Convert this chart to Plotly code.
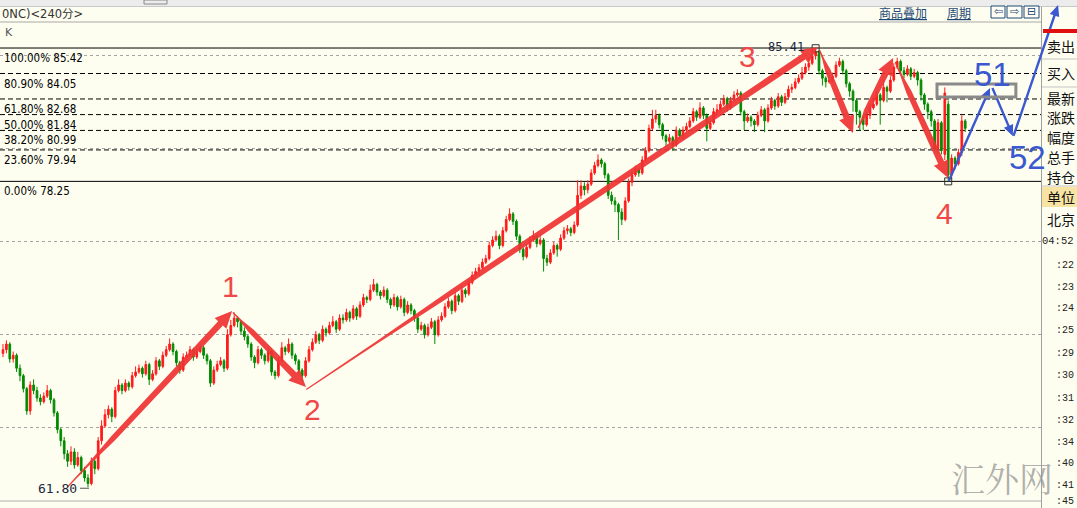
import math
import plotly.graph_objects as go

# ---------------- data (4h bars) ----------------
opens = [69.0,69.2,69.5,68.7,68.9,68.2,67.8,67.1,65.9,67.3,
         67.0,66.6,66.4,66.7,67.0,66.5,65.8,64.9,64.3,63.6,
         63.2,63.7,63.0,63.4,62.7,62.3,62.0,63.2,62.8,64.3,
         65.1,65.7,66.0,65.6,67.0,67.3,67.0,67.4,67.2,67.8,
         68.0,68.2,67.9,68.4,67.6,67.9,68.6,68.3,68.9,69.2,
         69.5,69.1,68.5,68.1,68.8,68.9,69.2,68.8,69.1,69.3,
         68.9,68.6,67.4,68.1,68.4,68.6,68.2,70.0,70.5,70.9,
         70.7,70.2,69.9,69.5,68.8,68.5,69.2,68.9,68.6,69.1,
         68.0,67.8,68.6,69.3,69.1,69.5,68.9,68.6,68.1,67.8,
         68.6,69.2,69.6,70.0,69.7,70.3,70.1,70.5,70.7,70.3,
         70.9,70.8,71.2,70.9,71.4,71.0,71.6,72.0,71.9,72.4,
         72.7,72.3,72.1,72.4,71.9,71.6,72.0,71.5,71.9,71.2,
         71.6,71.3,70.9,70.3,70.5,70.0,70.4,70.7,70.0,70.8,
         71.0,71.5,71.8,71.3,72.1,71.8,72.4,72.2,72.8,73.2,
         73.4,73.6,73.9,74.1,74.8,75.1,75.3,74.8,75.6,76.2,
         76.5,76.1,75.3,74.6,74.2,74.7,75.1,75.3,74.9,75.1,
         74.1,73.9,74.4,74.8,74.6,75.2,75.6,75.7,75.5,75.9,
         77.5,78.0,77.8,78.1,78.7,79.1,79.4,79.2,78.6,77.5,
         77.2,77.0,76.6,76.2,77.2,78.2,78.6,78.9,78.7,79.4,
         79.9,81.1,81.6,81.8,81.3,80.7,80.4,80.6,80.2,81.0,
         80.7,81.0,81.2,81.5,82.0,81.7,82.2,81.8,81.1,81.4,
         82.0,82.1,82.4,82.7,82.2,82.6,82.9,83.0,82.0,81.5,
         81.7,81.5,81.3,81.8,82.1,81.5,82.2,82.6,82.3,82.8,
         82.5,82.8,83.2,83.3,83.6,83.8,84.1,84.4,84.6,85.0,
         85.2,84.2,83.8,83.6,83.7,83.9,84.5,84.7,84.2,83.5,
         83.1,82.6,82.0,81.7,81.3,81.8,82.2,82.4,82.9,82.6,
         83.3,83.1,83.7,84.4,84.7,84.2,84.0,84.3,83.9,84.1,
         83.7,82.9,82.4,82.0,81.5,80.0,81.4,79.7,82.4,78.6,
         79.5,79.2,79.8,81.5]
closes = [69.2,69.5,68.7,68.9,68.2,67.8,67.1,65.9,67.3,67.0,
          66.6,66.4,66.7,67.0,66.5,65.8,64.9,64.3,63.6,63.2,
          63.7,63.0,63.4,62.7,62.3,62.0,63.2,62.8,64.3,65.1,
          65.7,66.0,65.6,67.0,67.3,67.0,67.4,67.2,67.8,68.0,
          68.2,67.9,68.4,67.6,67.9,68.6,68.3,68.9,69.2,69.5,
          69.1,68.5,68.1,68.8,68.9,69.2,68.8,69.1,69.3,68.9,
          68.6,67.4,68.1,68.4,68.6,68.2,70.0,70.5,70.9,70.7,
          70.2,69.9,69.5,68.8,68.5,69.2,68.9,68.6,69.1,68.0,
          67.8,68.6,69.3,69.1,69.5,68.9,68.6,68.1,67.8,68.6,
          69.2,69.6,70.0,69.7,70.3,70.1,70.5,70.7,70.3,70.9,
          70.8,71.2,70.9,71.4,71.0,71.6,72.0,71.9,72.4,72.7,
          72.3,72.1,72.4,71.9,71.6,72.0,71.5,71.9,71.2,71.6,
          71.3,70.9,70.3,70.5,70.0,70.4,70.7,70.0,70.8,71.0,
          71.5,71.8,71.3,72.1,71.8,72.4,72.2,72.8,73.2,73.4,
          73.6,73.9,74.1,74.8,75.1,75.3,74.8,75.6,76.2,76.5,
          76.1,75.3,74.6,74.2,74.7,75.1,75.3,74.9,75.1,74.1,
          73.9,74.4,74.8,74.6,75.2,75.6,75.7,75.5,75.9,77.5,
          78.0,77.8,78.1,78.7,79.1,79.4,79.2,78.6,77.5,77.2,
          77.0,76.6,76.2,77.2,78.2,78.6,78.9,78.7,79.4,79.9,
          81.1,81.6,81.8,81.3,80.7,80.4,80.6,80.2,81.0,80.7,
          81.0,81.2,81.5,82.0,81.7,82.2,81.8,81.1,81.4,82.0,
          82.1,82.4,82.7,82.2,82.6,82.9,83.0,82.0,81.5,81.7,
          81.5,81.3,81.8,82.1,81.5,82.2,82.6,82.3,82.8,82.5,
          82.8,83.2,83.3,83.6,83.8,84.1,84.4,84.6,85.0,85.2,
          84.2,83.8,83.6,83.7,83.9,84.5,84.7,84.2,83.5,83.1,
          82.6,82.0,81.7,81.3,81.8,82.2,82.4,82.9,82.6,83.3,
          83.1,83.7,84.4,84.7,84.2,84.0,84.3,83.9,84.1,83.7,
          82.9,82.4,82.0,81.5,80.0,81.4,79.9,83.0,78.6,79.5,
          79.2,79.8,81.5,81.1]
highs = [69.5,69.7,69.6,69.1,69.0,68.4,67.9,67.2,67.5,67.6,
         67.2,66.8,66.9,67.3,67.1,66.6,65.9,65.0,64.5,63.8,
         64.0,63.9,63.7,63.5,62.9,62.5,63.4,63.3,64.5,65.4,
         66.0,66.2,66.1,67.2,67.6,67.4,67.6,67.5,68.0,68.3,
         68.4,68.3,68.6,68.5,68.1,68.8,68.7,69.1,69.4,69.8,
         69.6,69.2,68.6,69.0,69.1,69.4,69.3,69.3,69.5,69.4,
         69.0,68.7,68.3,68.6,68.8,68.7,70.3,70.8,71.2,71.0,
         70.8,70.4,70.0,69.6,68.9,69.4,69.3,69.0,69.3,69.2,
         68.1,68.8,69.6,69.4,69.8,69.6,69.0,68.7,68.2,68.8,
         69.4,69.8,70.2,70.1,70.5,70.4,70.7,71.0,70.8,71.1,
         71.1,71.4,71.3,71.6,71.5,71.8,72.2,72.1,72.7,73.0,
         72.8,72.4,72.6,72.5,72.0,72.2,72.1,72.1,72.0,71.8,
         71.7,71.4,71.0,70.7,70.6,70.6,70.9,70.8,71.0,71.2,
         71.7,72.0,71.9,72.3,72.2,72.6,72.5,73.0,73.4,73.6,
         73.8,74.1,74.3,75.0,75.3,75.6,75.4,75.8,76.4,76.8,
         76.6,76.2,75.4,74.7,74.9,75.3,75.6,75.4,75.4,75.2,
         74.3,74.6,75.0,74.9,75.4,75.8,75.9,75.8,76.1,78.3,
         78.3,78.2,78.3,78.9,79.3,79.7,79.5,79.3,78.7,77.7,
         77.4,77.1,76.8,77.4,78.4,78.8,79.1,79.0,79.6,80.1,
         81.3,82.1,82.1,81.9,81.4,80.8,80.8,80.7,81.2,81.1,
         81.2,81.4,81.7,82.2,82.1,82.5,82.3,81.9,81.6,82.2,
         82.4,82.6,82.9,82.8,82.8,83.1,83.2,83.1,82.1,81.9,
         81.8,81.6,82.0,82.3,82.2,82.4,82.8,82.7,83.0,82.9,
         83.0,83.4,83.5,83.8,84.0,84.4,84.6,84.9,85.2,85.41,
         85.3,84.3,83.9,83.9,84.1,84.7,84.9,84.8,84.3,83.6,
         83.2,82.7,82.1,81.8,82.0,82.4,82.6,83.1,83.0,83.7,
         83.4,83.9,84.6,84.9,84.8,84.4,84.5,84.4,84.3,84.2,
         83.8,83.0,82.5,82.1,81.6,81.6,81.5,83.3,82.6,79.7,
         79.6,80.0,81.8,81.6]
lows = [68.8,69.0,68.5,68.5,68.0,67.5,66.9,65.7,65.7,66.8,
        66.4,66.2,66.3,66.6,66.3,65.6,64.7,64.0,63.3,62.9,
        63.0,62.8,62.9,62.5,62.1,61.8,61.9,62.5,62.7,64.1,
        65.0,65.5,65.3,65.5,66.9,66.8,66.9,67.0,67.1,67.7,
        67.9,67.7,67.8,67.3,67.5,67.8,68.1,68.2,68.8,69.1,
        68.9,68.3,67.9,68.0,68.6,68.8,68.6,68.7,69.0,68.7,
        68.4,67.2,67.3,68.0,68.3,68.0,68.1,69.9,70.4,70.4,
        70.0,69.7,69.3,68.6,68.2,68.4,68.7,68.4,68.5,67.8,
        67.6,67.7,68.5,68.9,69.0,68.7,68.4,67.9,67.5,67.7,
        68.5,69.1,69.5,69.5,69.6,69.9,70.0,70.4,70.1,70.2,
        70.6,70.7,70.7,70.8,70.8,70.9,71.5,71.7,71.8,72.3,
        72.1,71.9,72.0,71.7,71.4,71.5,71.3,71.4,71.0,71.1,
        71.1,70.7,70.1,70.2,69.8,69.9,70.3,69.5,69.9,70.7,
        70.9,71.4,71.1,71.2,71.6,71.7,72.0,72.1,72.7,73.0,
        73.2,73.5,73.8,74.0,74.7,75.0,74.6,74.7,75.5,76.1,
        75.9,75.1,74.4,74.0,74.1,74.6,75.0,74.7,74.8,73.4,
        73.7,73.8,74.3,74.2,74.5,75.1,75.4,75.3,75.4,75.8,
        77.3,77.5,77.6,78.0,78.6,79.0,79.0,78.4,77.3,77.0,
        76.6,75.1,75.9,76.1,77.1,78.0,78.5,78.5,78.6,79.3,
        79.8,81.0,81.4,81.1,80.5,80.1,80.3,79.9,80.1,80.5,
        80.5,80.9,81.1,81.4,81.5,81.6,81.6,80.4,81.0,81.3,
        81.9,82.0,82.3,82.0,82.1,82.5,82.8,81.8,81.0,81.4,
        81.2,80.9,81.2,81.7,80.9,81.4,82.1,82.1,82.2,82.3,
        82.4,82.7,83.0,83.2,83.5,83.7,84.0,84.2,84.5,84.8,
        84.0,83.4,83.3,83.5,83.6,83.8,84.4,84.0,83.3,82.8,
        82.0,81.3,81.0,81.0,81.2,81.6,82.1,82.3,81.3,82.5,
        82.5,83.0,83.6,84.3,84.0,83.8,83.9,83.7,83.8,83.4,
        82.6,82.1,81.6,81.2,79.9,79.8,79.7,79.4,78.25,78.4,
        78.9,79.1,79.6,80.9]

fib_levels = [85.42, 84.05, 82.68, 81.84, 80.99, 79.94, 78.25]
fib_labels = ["100.00% 85.42", "80.90% 84.05", "61.80% 82.68", "50.00% 81.84",
              "38.20% 80.99", "23.60% 79.94", "0.00% 78.25"]

# marked extremes: (bar index, price, label)
marks = [(25, 61.80, "61.80"), (239, 85.41, "85.41"), (278, 78.25, "")]

# wave count labels (bar index, price)
wave_names = ["1", "2", "3", "4"]
wave_pos = [(66.8, 72.57), (90.9, 65.96), (219.1, 84.94), (276.8, 76.5)]
proj_names = ["51", "52"]
proj_pos = [(290.9, 83.97), (301.2, 79.51)]

# drawn arrows: (tail bar, tail price) -> (head bar, head price)
red_arrows = [((19.0, 61.82), (67.4, 71.28)),
              ((67.6, 71.20), (89.1, 67.19)),
              ((89.2, 67.05), (239.7, 85.47)),
              ((240.2, 85.30), (250.0, 80.85)),
              ((251.5, 81.12), (261.8, 84.88)),
              ((262.4, 84.67), (278.0, 78.43))]
blue_arrows = [((278.2, 78.28), (290.3, 83.27)),
               ((291.0, 83.27), (297.0, 80.69)),
               ((297.2, 80.69), (310.3, 87.73))]
box_bars = (274.7, 297.9)
box_prices = (82.79, 83.48)

side_items = ["卖出", "买入", "最新", "涨跌", "幅度", "总手", "持仓", "单位", "北京"]
time_items = ["04:52", ":22", ":23", ":24", ":25", ":29", ":30", ":31", ":32", ":34", ":40", ":41", ":45"]

# ---------------- geometry helpers ----------------
W, H = 1077, 508
PL, PR, PT, PB = 0, 1041, 22, 501
XR = [-0.88, 305.29]
YR = [61.06, 86.82]


def to_px(x, y):
    px = PL + (x - XR[0]) / (XR[1] - XR[0]) * (PR - PL)
    py = PT + (YR[1] - y) / (YR[1] - YR[0]) * (PB - PT)
    return px, py


def pp(px, py):
    return (px - PL) / (PR - PL), (PB - py) / (PB - PT)


def poly_path(pts):
    s = []
    for k, (a, b) in enumerate(pts):
        x, y = pp(a, b)
        s.append(("M " if k == 0 else "L ") + f"{x:.5f},{y:.5f}")
    return " ".join(s) + " Z"


def arrow_shape(tail, head, profile, head_len, head_w, color):
    x0, y0 = to_px(*tail)
    x1, y1 = to_px(*head)
    dx, dy = x1 - x0, y1 - y0
    L = math.hypot(dx, dy)
    ux, uy = dx / L, dy / L
    nx, ny = -uy, ux
    sl = L - head_len
    left, right = [], []
    for t, w in profile:
        cx, cy = x0 + ux * sl * t, y0 + uy * sl * t
        left.append((cx + nx * w / 2, cy + ny * w / 2))
        right.append((cx - nx * w / 2, cy - ny * w / 2))
    bx, by = x0 + ux * sl, y0 + uy * sl
    pts = left + [(bx + nx * head_w / 2, by + ny * head_w / 2), (x1, y1),
                  (bx - nx * head_w / 2, by - ny * head_w / 2)] + right[::-1]
    return dict(type="path", xref="paper", yref="paper", path=poly_path(pts),
                fillcolor=color, line=dict(width=0), layer="above")


def rect_px(x0, y0, x1, y1, fill=None, line=None, lw=1, layer="above"):
    a, b = pp(x0, y0)
    c, d = pp(x1, y1)
    return dict(type="rect", xref="paper", yref="paper", x0=a, y0=b, x1=c, y1=d,
                fillcolor=fill if fill else "rgba(0,0,0,0)",
                line=dict(color=line if line else "rgba(0,0,0,0)", width=lw if line else 0),
                layer=layer)


def line_px(x0, y0, x1, y1, color, width=1, dash="solid", layer="above"):
    a, b = pp(x0, y0)
    c, d = pp(x1, y1)
    return dict(type="line", xref="paper", yref="paper", x0=a, y0=b, x1=c, y1=d,
                line=dict(color=color, width=width, dash=dash), layer=layer)


def text_px(px, py, text, size=12, color="#000", family="Liberation Sans",
            xanchor="left", yanchor="middle"):
    x, y = pp(px, py)
    return dict(x=x, y=y, xref="paper", yref="paper", text=text, showarrow=False,
                xanchor=xanchor, yanchor=yanchor, font=dict(size=size, color=color, family=family))


BG = "#fefef0"
RED = "rgba(238,52,52,0.93)"
BLUE = "#3a58cf"

fig = go.Figure()
fig.add_trace(go.Candlestick(
    x=list(range(len(closes))), open=opens, high=highs, low=lows, close=closes,
    increasing=dict(line=dict(color="#ff1a1a", width=1), fillcolor="#ff1a1a"),
    decreasing=dict(line=dict(color="#008a00", width=1), fillcolor="#008a00"),
    whiskerwidth=0, hoverinfo="skip", showlegend=False))

# square markers at marked extremes
fig.add_trace(go.Scatter(
    x=[m[0] for m in marks[1:]], y=[m[1] for m in marks[1:]], mode="markers",
    marker=dict(symbol="square-open", size=7, color="#303030", line=dict(width=1)),
    hoverinfo="skip", showlegend=False))

shapes = []
annotations = []

# chrome
shapes.append(rect_px(0, 0, W, 6, fill="#ececec", layer="below"))
shapes.append(line_px(0, 6.5, W, 6.5, "#c8c8c8"))
shapes.append(rect_px(144, 0, 167, 4, line="#888888"))
shapes.append(line_px(0, 22, PR, 22, "#a8a8a8"))
shapes.append(line_px(PR + 0.5, 7, PR + 0.5, H, "#a0a0a0"))
shapes.append(line_px(0, PB, PR, PB, "#b0b0b0"))

# fib lines
for lv, lab in zip(fib_levels, fib_labels):
    solid = lv in (fib_levels[0], fib_levels[-1])
    shapes.append(dict(type="line", xref="paper", yref="y", x0=0, x1=1, y0=lv, y1=lv,
                       line=dict(color="#000000", width=1, dash="solid" if solid else "5px,3px"),
                       layer="below"))
    annotations.append(dict(x=0.002, y=lv, xref="paper", yref="y", text=lab, showarrow=False,
                            xanchor="left", yanchor="top", yshift=-1,
                            font=dict(size=11.5, color="#000", family="DejaVu Sans Condensed, Liberation Sans")))

# red arrows
taper = [(0.0, 1.2), (0.14, 2.2), (0.3, 5.5), (1.0, 6.5)]
for tail, head in red_arrows:
    shapes.append(arrow_shape(tail, head, taper, 17, 16, RED))
# blue arrows
for tail, head in blue_arrows:
    shapes.append(arrow_shape(tail, head, [(0, 2.4), (1, 2.4)], 11, 10, BLUE))

# gray box
bx0, by0 = to_px(box_bars[0], box_prices[1])
bx1, by1 = to_px(box_bars[1], box_prices[0])
shapes.append(rect_px(bx0, by0, bx1, by1, line="#8a8a8a", lw=3))

# wave labels
for name, (bi, pr) in zip(wave_names, wave_pos):
    px, py = to_px(bi, pr)
    annotations.append(text_px(px, py, name, size=30, color="#f04848", xanchor="center"))
for name, (bi, pr) in zip(proj_names, proj_pos):
    px, py = to_px(bi, pr)
    annotations.append(text_px(px, py, name, size=33, color=BLUE, xanchor="center"))

# extreme value labels
px, py = to_px(marks[0][0], marks[0][1])
annotations.append(text_px(px - 9, py + 1, marks[0][2], size=13, color="#1a2840",
                           family="DejaVu Sans Mono", xanchor="right"))
shapes.append(line_px(px - 8, py + 1, px + 1, py + 1, "#555555"))
px, py = to_px(marks[1][0], marks[1][1])
annotations.append(text_px(px - 10, py - 1, marks[1][2], size=12, color="#1a2840",
                           family="DejaVu Sans Mono", xanchor="right"))

# header texts
annotations.append(text_px(0, 14, "0NC)&lt;240分&gt;", size=11.5, color="#333",
                           family="DejaVu Sans, Noto Sans CJK SC"))
annotations.append(text_px(3, 32, "K", size=11, color="#555", family="DejaVu Sans"))
annotations.append(text_px(877, 13, "<u>商品叠加</u>", size=12, color="#1f4a78",
                           family="Noto Sans CJK SC"))
annotations.append(text_px(945, 13, "<u>周期</u>", size=12, color="#1f4a78",
                           family="Noto Sans CJK SC"))
for (x0, x1), sym in zip([(991, 1005), (1007, 1022), (1024, 1039)], ["⇦", "⇨", "⊟"]):
    shapes.append(rect_px(x0, 6, x1, 18, fill="#fdfdf4", line="#1f4a78"))
    annotations.append(text_px((x0 + x1) / 2, 12, sym, size=11, color="#1f4a78",
                               family="DejaVu Sans", xanchor="center"))

# right panel
shapes.append(rect_px(PR + 2, 29, W, 33, fill="#e01010"))
for yy in (59, 87, 186):
    shapes.append(line_px(PR + 1, yy, W, yy, "#c4c4c4"))
shapes.append(rect_px(PR + 1, 187, W, 207, fill="#f7e3a2", layer="below"))
side_y = [46, 73, 98, 117, 137, 157, 177, 197, 219]
for t, yy in zip(side_items, side_y):
    annotations.append(text_px(1045, yy, t, size=14, color="#111", family="Noto Sans CJK SC"))
time_y = [241, 265, 287, 308, 330, 353, 375, 398, 420, 442, 463, 485, 501]
for k, (t, yy) in enumerate(zip(time_items, time_y)):
    annotations.append(text_px(1076, yy, t, size=10.5 if k == 0 else 10,
                               color="#222", family="Liberation Mono", xanchor="right"))

# watermark
annotations.append(text_px(1002, 477, "汇外网", size=34, color="rgba(150,150,150,0.75)",
                           family="Noto Serif CJK SC, Noto Sans CJK SC", xanchor="center"))

fig.update_layout(
    width=W, height=H, margin=dict(l=PL, r=W - PR, t=PT, b=H - PB),
    paper_bgcolor=BG, plot_bgcolor=BG, showlegend=False,
    xaxis=dict(range=XR, visible=False, rangeslider=dict(visible=False), fixedrange=True),
    yaxis=dict(range=YR, showticklabels=False, ticks="", zeroline=False, showline=False,
               showgrid=True, gridcolor="#a4a4a4", griddash="dot", gridwidth=1,
               tickvals=[65, 70, 75, 80, 85], fixedrange=True),
    shapes=shapes, annotations=annotations,
)

fig.write_html("out.html", config={"displayModeBar": False},
               post_script="document.body.style.margin='0';document.body.style.padding='0';document.body.style.overflow='hidden';")
